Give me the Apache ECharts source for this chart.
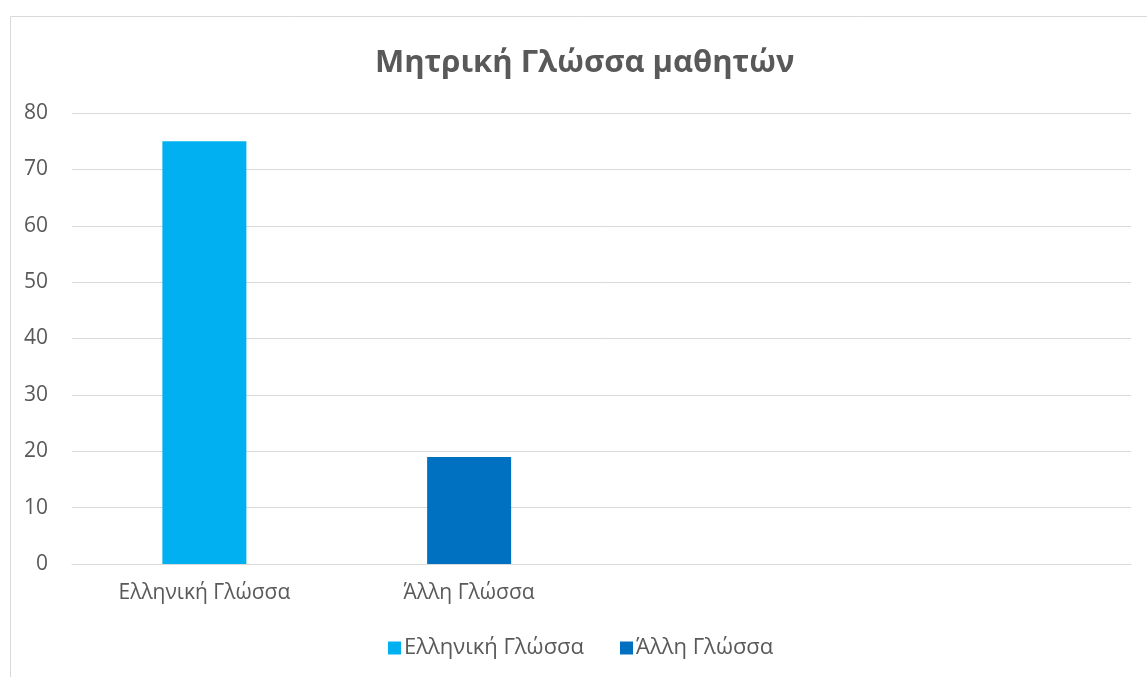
<!DOCTYPE html>
<html><head><meta charset="utf-8">
<script src="https://cdn.jsdelivr.net/npm/echarts@6/dist/echarts.min.js"></script>
<style>html,body{margin:0;padding:0;background:#fff}#c{width:1147px;height:677px}</style>
</head><body><div id="c"></div>
<script>
const categories = ['Ελληνική Γλώσσα', 'Άλλη Γλώσσα', '', ''];
const seriesNames = ['Ελληνική Γλώσσα', 'Άλλη Γλώσσα'];
const greekValues = [75, null, null, null];
const otherValues = [null, 19, null, null];
const yTicks = [0, 10, 20, 30, 40, 50, 60, 70, 80];

const font = '"Open Sans", sans-serif';
const chart = echarts.init(document.getElementById('c'), null, {renderer: 'canvas'});
chart.setOption({
  animation: false,
  backgroundColor: '#fff',
  graphic: [{
    type: 'rect', left: 8, top: 14, shape: {width: 1138, height: 700},
    style: {fill: 'none', stroke: '#d9d9d9', lineWidth: 1}, silent: true, z: -1
  }],
  title: {
    text: 'Μητρική Γλώσσα μαθητών', left: 370, top: 43,
    textStyle: {fontFamily: font, fontSize: 31, fontWeight: 'bold', color: '#595959'}
  },
  legend: {
    bottom: 13, left: 383, itemWidth: 13, itemHeight: 13, itemGap: 36,
    icon: 'rect',
    textStyle: {fontFamily: font, fontSize: 22, color: '#595959', padding: [0, 0, 0, -2]},
    data: seriesNames
  },
  grid: {left: 72, right: 16, top: 113, bottom: 113, containLabel: false},
  xAxis: {
    type: 'category', data: categories,
    axisLine: {lineStyle: {color: '#d9d9d9', width: 1}},
    axisTick: {show: false},
    axisLabel: {fontFamily: font, fontSize: 21, color: '#595959', margin: 19, interval: 0},
    splitLine: {show: false}
  },
  yAxis: {
    type: 'value', min: yTicks[0], max: yTicks[yTicks.length - 1], interval: 10,
    axisLine: {show: false}, axisTick: {show: false},
    axisLabel: {fontFamily: font, fontSize: 21, color: '#595959', margin: 24},
    splitLine: {lineStyle: {color: '#d9d9d9', width: 1}}
  },
  series: [
    {name: seriesNames[0], type: 'bar', data: greekValues, barWidth: 84, barGap: '-100%',
     itemStyle: {color: '#00b0f0'}},
    {name: seriesNames[1], type: 'bar', data: otherValues, barWidth: 84, barGap: '-100%',
     itemStyle: {color: '#0070c0'}}
  ]
});
</script></body></html>
